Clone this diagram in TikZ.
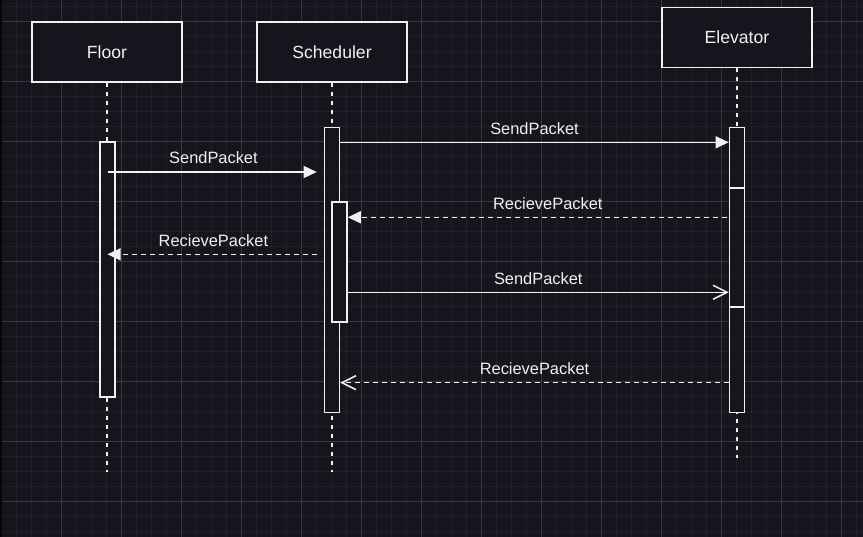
\documentclass[tikz,border=0pt]{standalone}
\usepackage{fontspec}
\setmainfont{Liberation Sans}
\usetikzlibrary{arrows.meta}
\definecolor{canvas}{HTML}{18141D}
\definecolor{gridmin}{HTML}{231F28}
\definecolor{gridmaj}{HTML}{3A3640}
\definecolor{ink}{HTML}{F0F0F0}
\newcommand\headfont{\fontsize{17.6}{20}\selectfont}
\newcommand\msgfont{\fontsize{16.4}{19}\selectfont}

\begin{document}
\begin{tikzpicture}[x=1pt,y=-1pt]

\tikzset{head/.style={draw=ink,fill=canvas,text=ink,line width=1.6pt,minimum width=150pt,minimum height=60pt,font=\headfont}}
\tikzset{bar/.style={draw=ink,fill=canvas,line width=1.6pt,minimum width=15pt,inner sep=0pt}}
\tikzset{life/.style={draw=ink,line width=1.6pt,dash pattern=on 4pt off 5pt}}
\tikzset{call/.style={draw=ink,line width=1.5pt,-{Triangle[length=13pt,width=12pt]}}}
\tikzset{send/.style={draw=ink,line width=1.5pt,-{Straight Barb[length=14pt,width=14pt,line width=1.5pt]}}}
\tikzset{reply/.style={call,dash pattern=on 5pt off 4pt}}
\tikzset{back/.style={send,dash pattern=on 5pt off 4pt}}
\tikzset{tag/.style={anchor=base,yshift=8pt,inner sep=0pt,text=ink,font=\msgfont}}

\fill[canvas] (0,0) rectangle (863,537);
\useasboundingbox (0,0) rectangle (863,537);
\foreach \i in {0,...,57} \draw[gridmin,line width=1pt] (1.5+15*\i,0) -- (1.5+15*\i,537);
\foreach \i in {0,...,35} \draw[gridmin,line width=1pt] (0,6.5+15*\i) -- (863,6.5+15*\i);
\foreach \i in {0,...,14} \draw[gridmaj,line width=1pt] (1.5+60*\i,0) -- (1.5+60*\i,537);
\foreach \i in {0,...,8} \draw[gridmaj,line width=1pt] (0,21.5+60*\i) -- (863,21.5+60*\i);
\fill[black!70!canvas] (0,0) rectangle (1.5,537);

\node[head] (floor) at (107,52) {Floor};
\node[head] (sched) at (332,52) {Scheduler};
\node[head] (elev) at (737,37.5) {Elevator};

\coordinate (floorEnd) at (107,472);
\coordinate (schedEnd) at (332,472);
\coordinate (elevEnd) at (737,458);

\draw[life] (floor.south) -- (floorEnd);
\draw[life] (sched.south) -- (schedEnd);
\draw[life] (elev.south) -- (elevEnd);

\node[bar,minimum height=255pt] (floorA) at (107.5,269.5) {};
\node[bar,minimum height=285pt] (schedA) at (332,270) {};
\node[bar,minimum height=120pt] (schedB) at (339.5,262.3) {};
\node[bar,minimum height=285pt] (elevA) at (737,270) {};
\node[bar,minimum height=119pt] (elevB) at (737,247.5) {};

\draw[call,shorten >=7pt] (floorA.center |- 0,172) -- (schedA.west |- 0,172) node[tag,pos=0.49] {SendPacket};
\draw[call] (schedA.east |- 0,142.3) -- (elevA.west |- 0,142.3) node[tag,midway] {SendPacket};
\draw[reply,shorten <=2pt] (elevA.west |- 0,217.3) -- (schedB.east |- 0,217.3) node[tag,pos=0.475] {RecievePacket};
\draw[reply,shorten <=7pt] (schedA.west |- 0,254.3) -- (floorA.center |- 0,254.3) node[tag,pos=0.51] {RecievePacket};
\draw[send] (schedB.east |- 0,292.3) -- (elevA.west |- 0,292.3) node[tag,midway] {SendPacket};
\draw[back] (elevA.west |- 0,382.7) -- (schedA.east |- 0,382.7) node[tag,midway] {RecievePacket};

\end{tikzpicture}
\end{document}
